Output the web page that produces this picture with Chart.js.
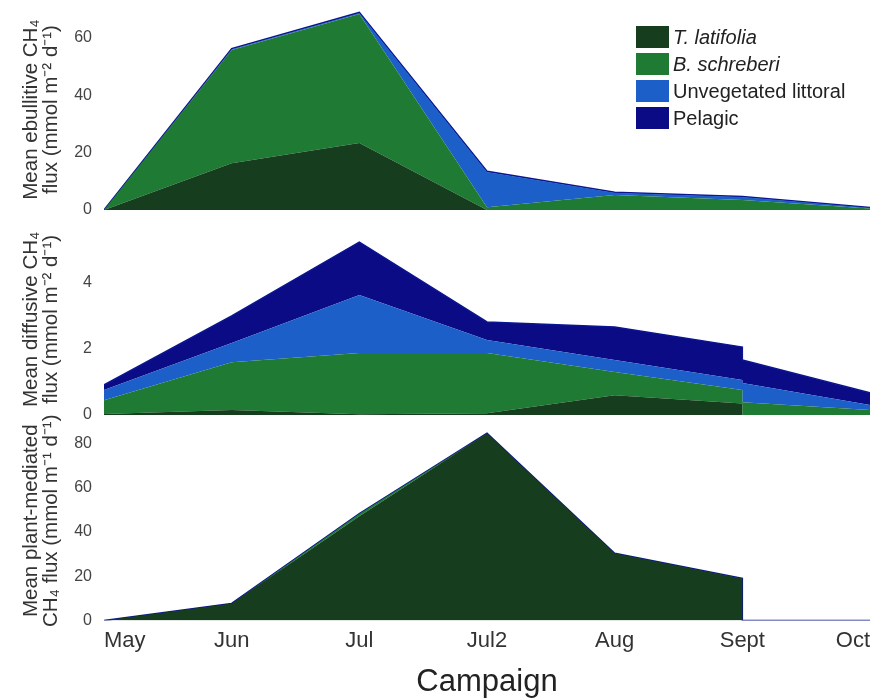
<!DOCTYPE html>
<html>
<head>
<meta charset="utf-8">
<script src="https://cdn.jsdelivr.net/npm/chart.js@4/dist/chart.umd.min.js"></script>
<style>
  html, body { margin: 0; padding: 0; background: #fff; }
  #wrap { position: relative; width: 882px; height: 700px; overflow: hidden; font-family: "Liberation Sans", Arial, sans-serif; }
  .panel { position: absolute; left: 0; width: 882px; }
  #legend { position: absolute; left: 636px; top: 23px; }
  .item { display: flex; align-items: center; height: 27px; }
  .sw { width: 33px; height: 22px; margin-right: 4px; }
  .lbl { font-size: 20px; color: #222; line-height: 22px; }
  .lbl.it { font-style: italic; }
</style>
</head>
<body>
<div id="wrap">
  <div class="panel" style="top:0px;height:225px"><canvas id="ebull"></canvas></div>
  <div class="panel" style="top:205px;height:225px"><canvas id="diff"></canvas></div>
  <div class="panel" style="top:405px;height:295px"><canvas id="plant"></canvas></div>
  <div id="legend"></div>
</div>
<script>
// Campaign categories along the shared x axis
const campaigns = ['May', 'Jun', 'Jul', 'Jul2', 'Aug', 'Sept', 'Oct'];
// Position of each sample on the campaign axis; Sept closes one period and opens the next
const samplePos = [0, 1, 2, 3, 4, 5, 5, 6];

const seriesNames = ['T. latifolia', 'B. schreberi', 'Unvegetated littoral', 'Pelagic'];
const seriesItalic = [true, true, false, false];
const seriesColors = ['#163d1e', '#1f7a34', '#1c5fc9', '#0b0b85'];
const edgeColor = '#0b1590';

// Ebullitive CH4 flux (mmol m-2 d-1), per habitat
const ebullTlat  = [0, 16.3, 23.3, 0, 0, 0, 0, 0];
const ebullBsch  = [0, 39.4, 45.0, 1.0, 5.2, 3.5, 3.5, 0.5];
const ebullUnveg = [0, 0.3, 0.3, 12.2, 0.8, 1.0, 1.0, 0.3];
const ebullPel   = [0, 0.2, 0.2, 0.3, 0.2, 0.2, 0.2, 0.1];
const ebullTicks = [0, 20, 40, 60];

// Diffusive CH4 flux (mmol m-2 d-1), per habitat
const diffTlat  = [0.03, 0.15, 0.02, 0.05, 0.6, 0.35, 0, 0];
const diffBsch  = [0.42, 1.45, 1.86, 1.83, 0.7, 0.41, 0.39, 0.15];
const diffUnveg = [0.31, 0.58, 1.76, 0.39, 0.37, 0.3, 0.58, 0.15];
const diffPel   = [0.15, 0.82, 1.6, 0.55, 1.0, 1.0, 0.7, 0.37];
const diffTicks = [0, 2, 4];

// Plant-mediated CH4 flux (mmol m-1 d-1), per habitat
const plantTlat  = [0, 7.7, 47.0, 84.5, 30.3, 19.0, 0, 0];
const plantBsch  = [0, 0, 1.2, 0, 0, 0, 0, 0];
const plantUnveg = [0, 0, 0, 0, 0, 0, 0, 0];
const plantPel   = [0, 0, 0, 0, 0, 0, 0, 0];
const plantTicks = [0, 20, 40, 60, 80];

const FONT = '"Liberation Sans", Arial, sans-serif';

// running totals so each layer sits on top of the previous one
function cumulative(layers) {
  const out = [];
  let run = layers[0].map(() => 0);
  layers.forEach(l => {
    run = run.map((v, i) => v + l[i]);
    out.push(run.slice());
  });
  return out;
}

function makePanel(id, layers, yMax, yTicks, titleLines, showX, padTop, padBottom) {
  const tops = cumulative(layers);
  const datasets = tops.map((t, k) => ({
    label: seriesNames[k],
    data: t.map((y, i) => ({ x: samplePos[i], y })),
    backgroundColor: seriesColors[k],
    borderColor: k === 3 ? edgeColor : seriesColors[k],
    borderWidth: k === 3 ? 1.5 : 0,
    fill: k === 0 ? 'origin' : '-1',
    pointRadius: 0,
    tension: 0
  }));
  return new Chart(document.getElementById(id), {
    type: 'line',
    data: { datasets },
    options: {
      responsive: true,
      maintainAspectRatio: false,
      animation: false,
      layout: { padding: { left: 8, right: 12, top: padTop, bottom: padBottom } },
      plugins: { legend: { display: false }, tooltip: { enabled: false } },
      scales: {
        x: {
          type: 'linear', min: 0, max: 6,
          display: showX,
          grid: { display: false, drawTicks: false },
          border: { display: false },
          afterBuildTicks: s => { s.ticks = campaigns.map((_, i) => ({ value: i })); },
          afterFit: s => { s.paddingLeft = 0; s.paddingRight = 0; },
          ticks: {
            callback: v => campaigns[v],
            font: { family: FONT, size: 22 },
            color: '#333',
            padding: 7,
            align: 'inner',
            maxRotation: 0,
            autoSkip: false
          },
          title: {
            display: showX, text: 'Campaign',
            font: { family: FONT, size: 31, lineHeight: 1.1 }, color: '#222',
            padding: { top: 5, bottom: 0 }
          }
        },
        y: {
          min: 0, max: yMax,
          grid: { display: false, drawTicks: false },
          border: { display: false },
          afterBuildTicks: s => { s.ticks = yTicks.map(v => ({ value: v })); },
          afterFit: s => { s.width = 96; s.paddingTop = 0; s.paddingBottom = 0; },
          ticks: { font: { family: FONT, size: 16 }, color: '#444', padding: 12 },
          title: {
            display: true, text: titleLines,
            font: { family: FONT, size: 20.5, lineHeight: 1.0 }, color: '#333',
            padding: { top: 13, bottom: 0 }
          }
        }
      }
    }
  });
}

makePanel('ebull', [ebullTlat, ebullBsch, ebullUnveg, ebullPel], 70, ebullTicks,
  ['Mean ebullitive CH\u2084', 'flux (mmol m\u207B\u00B2 d\u207B\u00B9)'], false, 9, 15);
makePanel('diff', [diffTlat, diffBsch, diffUnveg, diffPel], 5.8, diffTicks,
  ['Mean diffusive CH\u2084', 'flux (mmol m\u207B\u00B2 d\u207B\u00B9)'], false, 18.6, 15);
makePanel('plant', [plantTlat, plantBsch, plantUnveg, plantPel], 90, plantTicks,
  ['Mean plant-mediated', 'CH\u2084 flux (mmol m\u207B\u00B9 d\u207B\u00B9)'], true, 16, 0);

// legend
const legend = document.getElementById('legend');
seriesNames.forEach((name, k) => {
  const row = document.createElement('div');
  row.className = 'item';
  const sw = document.createElement('div');
  sw.className = 'sw';
  sw.style.background = seriesColors[k];
  const lbl = document.createElement('span');
  lbl.className = 'lbl' + (seriesItalic[k] ? ' it' : '');
  lbl.textContent = name;
  row.appendChild(sw);
  row.appendChild(lbl);
  legend.appendChild(row);
});
</script>
</body>
</html>
